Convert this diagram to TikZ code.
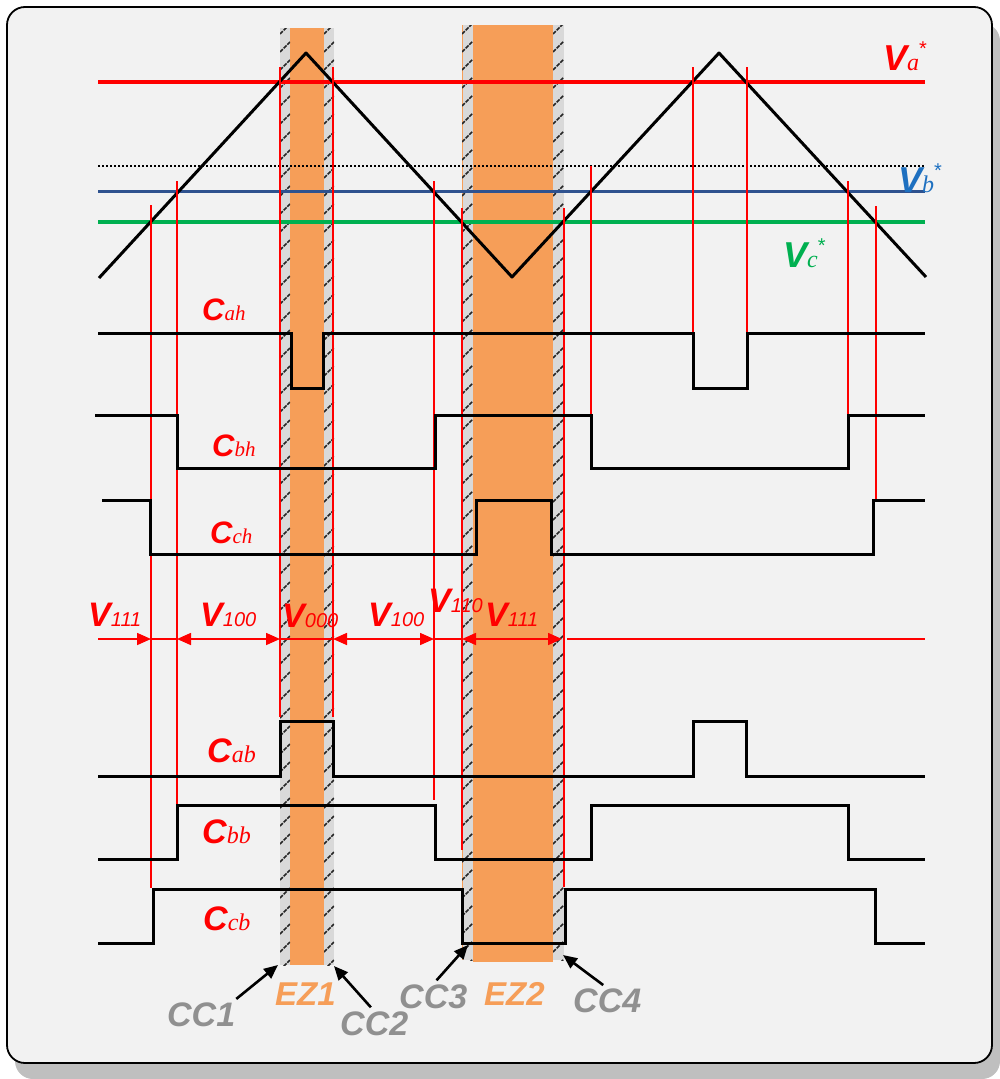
\documentclass[tikz,border=0pt]{standalone}
\usepackage{fontspec}
\setmainfont{Liberation Sans}
\newfontfamily\tms{Liberation Serif}
\usepackage{xcolor}
\usetikzlibrary{arrows.meta}
\definecolor{ezorange}{RGB}{246,158,88}
\definecolor{ccgray}{RGB}{217,217,217}
\definecolor{vbline}{RGB}{47,82,143}
\definecolor{vbtext}{RGB}{30,112,192}
\definecolor{vcgreen}{RGB}{0,176,80}
\definecolor{lblgray}{RGB}{144,144,144}
\definecolor{framefill}{RGB}{242,242,242}
\definecolor{shadowgray}{RGB}{191,191,191}
% big bold italic letter, smaller text on the same baseline
\newcommand{\siglbl}[4]{{\fontsize{#3}{#3}\selectfont\bfseries\itshape #1}{\fontsize{#4}{#4}\selectfont #2}}
\newcommand{\refstar}{\raisebox{15pt}{\fontsize{20}{20}\selectfont *}}

\begin{document}
\begin{tikzpicture}[x=1pt, y=-1pt,
    wave/.style={line width=3pt, line join=miter},
    tick/.style={red, line width=2pt},
    hatch/.style={black!85, line width=1.5pt, dash pattern=on 4pt off 1.2pt},
    tarrow/.style={red, line width=1.6pt, {Triangle[length=14pt,width=12pt]}-{Triangle[length=14pt,width=12pt]}},
    ccarrow/.style={-{Triangle[length=14pt,width=12pt]}, line width=2.6pt, shorten <=5pt},
    lbl/.style={inner sep=0pt, anchor=base west}]
    \useasboundingbox (0,0) rectangle (1000,1079);
    % frame with its shadow
    \fill[shadowgray, rounded corners=18pt] (15,23) rectangle (1000,1079);
    \draw[line width=1.8pt, fill=framefill, rounded corners=18pt] (7,7) rectangle (992,1063);
    % commutation strips CC1, EZ1, CC2 and CC3, EZ2, CC4
    \fill[ccgray] (280,28) rectangle (290,965);
    \fill[ezorange] (290,28) rectangle (324,965);
    \fill[ccgray] (324,28) rectangle (334,965);
    \fill[ccgray] (462,25) rectangle (473,960);
    \fill[ezorange] (473,25) rectangle (553,962);
    \fill[ccgray] (553,25) rectangle (564,960);
    \draw[ezorange, line width=0.8pt] (462,25) -- (462,960);
    \foreach \xl/\w/\yt/\yb in {280/10/28/965, 324/10/28/965, 462/11/25/960, 553/11/25/960} {
        \begin{scope}
            \clip (\xl,\yt) rectangle ++(\w,\yb-\yt);
            \foreach \y in {34,52,...,990}
                \draw[hatch] (\xl,\y) -- ++(\w,-\w);
        \end{scope}
    }
    % references and carrier
    \draw[red, line width=3.5pt] (98,82) -- (925,82);
    \draw[black, line width=1.3pt, dash pattern=on 2pt off 2pt] (98,166) -- (925,166);
    \draw[vbline, line width=3pt] (98,191) -- (925,191);
    \draw[vcgreen, line width=3.5pt] (98,222) -- (925,222);
    \draw[wave, line join=round] (99,278) -- (306,53) -- (512,277) -- (719,53) -- (926,277);
    \node[lbl, red] (va) at (883,70) {\siglbl{V}{\tms\itshape a}{36}{24}\refstar};
    \node[lbl, vbtext] (vb) at (898,192) {\siglbl{V}{\tms\itshape b}{36}{24}\refstar};
    \node[lbl, vcgreen] (vc) at (783,267) {\siglbl{V}{\tms\itshape c}{36}{24}\refstar};
    % switching instants
    \foreach \x/\yt/\yb in {151/205/888, 177/181/805, 280/67/717, 333/67/717,
        434/181/800, 462/208/850, 564/208/887, 591/166/415,
        693/67/333, 747/67/333, 848/181/415, 876/206/500}
        \draw[tick] (\x,\yt) -- (\x,\yb);
    % upper switching signals
    \draw[wave] (98,333) -- (291,333) -- (291,388) -- (323,388) -- (323,333) -- (693,333)
        -- (693,388) -- (747,388) -- (747,333) -- (925,333);
    \draw[wave] (95,415) -- (177,415) -- (177,468) -- (435,468) -- (435,415) -- (591,415)
        -- (591,468) -- (848,468) -- (848,415) -- (925,415);
    \draw[wave] (102,500) -- (150,500) -- (150,554) -- (476,554) -- (476,500) -- (551,500)
        -- (551,554) -- (873,554) -- (873,500) -- (925,500);
    \node[lbl, red] (cah) at (202,320) {\siglbl{C}{\tms\itshape ah}{31}{21}};
    \node[lbl, red] (cbh) at (212,456) {\siglbl{C}{\tms\itshape bh}{31}{21}};
    \node[lbl, red] (cch) at (210,543) {\siglbl{C}{\tms\itshape ch}{31}{21}};
    % voltage vectors
    \coordinate (vs) at (98,639);
    \foreach \x [count=\i] in {151,177,280,333,434,462,564}
        \coordinate (t\i) at (\x,639);
    \coordinate (ve) at (567,639);
    \coordinate (vf) at (925,639);
    \draw[red, line width=1.6pt, -{Triangle[length=14pt,width=12pt]}] (vs) -- (t1);
    \draw[red, line width=1.6pt] (t1) -- (t2);
    \draw[tarrow] (t2) -- (t3);
    \draw[red, line width=1.6pt] (t3) -- (t4);
    \draw[tarrow] (t4) -- (t5);
    \draw[red, line width=1.6pt] (t5) -- (t6);
    \draw[tarrow] (t6) -- ([xshift=-2pt]t7);
    \draw[red, line width=1.6pt] (ve) -- (vf);
    \node[lbl, red] (v111a) at (88,626) {\siglbl{V}{\itshape 111}{34}{20}};
    \node[lbl, red] (v100a) at (200,626) {\siglbl{V}{\itshape 100}{34}{20}};
    \node[lbl, red] (v000) at (282,627) {\siglbl{V}{\itshape 000}{34}{20}};
    \node[lbl, red] (v100b) at (368,626) {\siglbl{V}{\itshape 100}{34}{20}};
    \node[lbl, red] (v110) at (428,612) {\siglbl{V}{\itshape 110}{34}{20}};
    \node[lbl, red] (v111b) at (485,626) {\siglbl{V}{\itshape 111}{34}{20}};
    % lower switching signals
    \draw[wave] (98,776) -- (280,776) -- (280,721) -- (333,721) -- (333,776) -- (693,776)
        -- (693,721) -- (746,721) -- (746,776) -- (925,776);
    \draw[wave] (98,859) -- (177,859) -- (177,805) -- (435,805) -- (435,859) -- (591,859)
        -- (591,805) -- (848,805) -- (848,859) -- (925,859);
    \draw[wave] (98,943) -- (153,943) -- (153,889) -- (462,889) -- (462,943) -- (565,943)
        -- (565,889) -- (875,889) -- (875,943) -- (925,943);
    \node[lbl, red] (cab) at (207,762) {\siglbl{C}{\tms\itshape ab}{34}{24}};
    \node[lbl, red] (cbb) at (202,843) {\siglbl{C}{\tms\itshape bb}{34}{24}};
    \node[lbl, red] (ccb) at (203,930) {\siglbl{C}{\tms\itshape cb}{34}{24}};
    % strip names
    \node[lbl, lblgray] (cc1) at (167,1026) {\fontsize{34}{34}\selectfont\bfseries\itshape CC1};
    \node[lbl, ezorange] (ez1) at (275,1005) {\fontsize{33}{33}\selectfont\bfseries\itshape EZ1};
    \node[lbl, lblgray] (cc2) at (340,1035) {\fontsize{34}{34}\selectfont\bfseries\itshape CC2};
    \node[lbl, lblgray] (cc3) at (399,1008) {\fontsize{34}{34}\selectfont\bfseries\itshape CC3};
    \node[lbl, ezorange] (ez2) at (484,1005) {\fontsize{33}{33}\selectfont\bfseries\itshape EZ2};
    \node[lbl, lblgray] (cc4) at (573,1012) {\fontsize{34}{34}\selectfont\bfseries\itshape CC4};
    \coordinate (cc1tip) at (278,965);
    \coordinate (cc2tip) at (334,966);
    \coordinate (cc3tip) at (468,945);
    \coordinate (cc4tip) at (563,955);
    \draw[ccarrow] ([xshift=-3pt]cc1.north east) -- (cc1tip);
    \draw[ccarrow] (cc2.north) -- (cc2tip);
    \draw[ccarrow] (cc3.north) -- (cc3tip);
    \draw[ccarrow] (cc4.north) -- (cc4tip);
\end{tikzpicture}
\end{document}
